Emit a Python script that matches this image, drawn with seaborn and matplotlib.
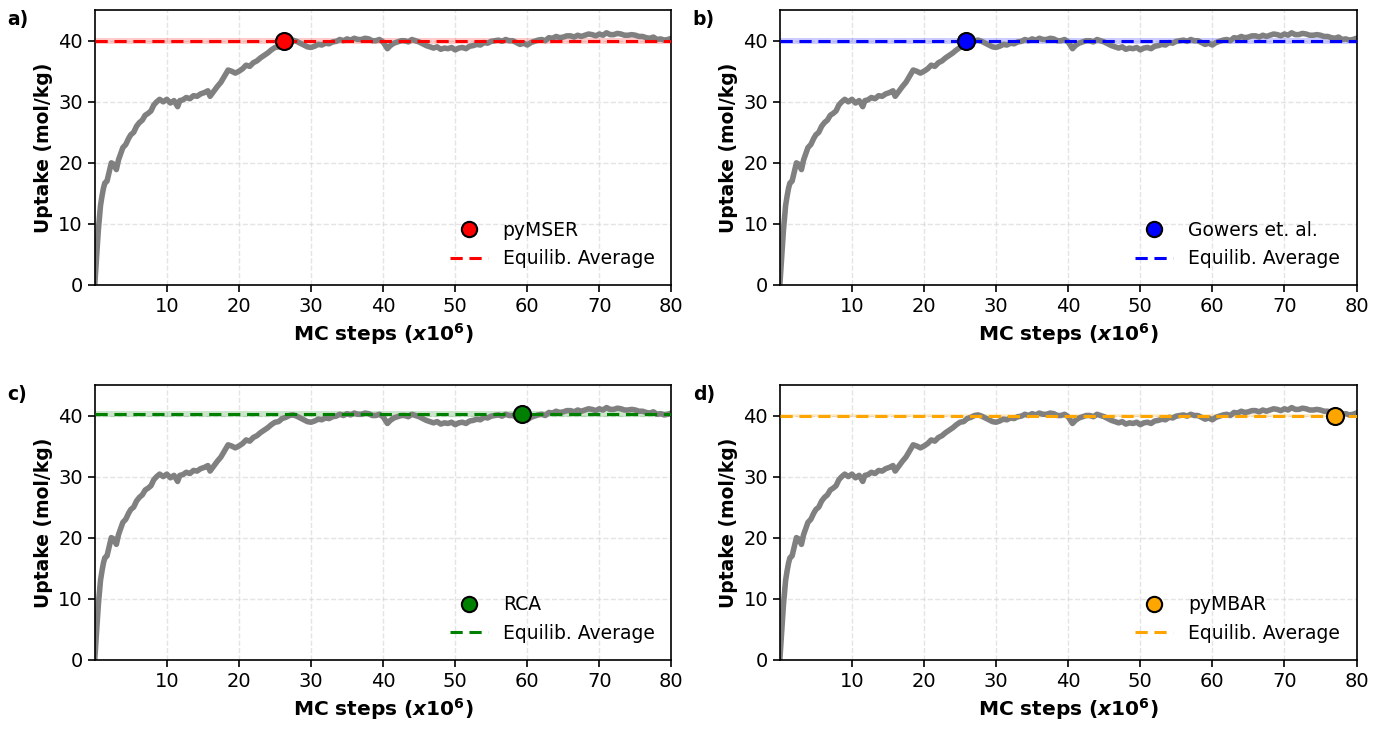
import numpy as np
import pandas as pd
import matplotlib
matplotlib.use("Agg")
import matplotlib.pyplot as plt
import seaborn as sns
from matplotlib.lines import Line2D

# ---- data ----
steps = [0, 0.2, 0.5, 0.8, 1.0, 1.2, 1.4, 1.7, 2.0, 2.3, 2.6, 3.0, 3.3, 3.6, 3.9,
         4.3, 4.7, 5.0, 5.4, 5.8, 6.2, 6.6, 7.0, 7.4, 7.8, 8.2, 8.6, 9.0, 9.5, 10.0,
         10.5, 11.0, 11.5, 11.8, 12.2, 12.7, 13.2, 13.7, 14.2, 14.7, 15.2, 15.7, 16.0,
         16.5, 17.0, 17.5, 18.0, 18.5, 19.0, 19.5, 20.0, 20.5, 21.0, 21.5, 22.0, 22.5,
         23.0, 23.5, 24.0, 24.5, 25.0, 25.5, 26.0, 26.5, 27.0, 27.5, 28.0, 28.5, 29.0,
         29.5, 30.0, 30.5, 31, 31.5, 32, 32.5, 33, 33.5, 34, 34.5, 35, 35.5, 36, 36.5,
         37, 37.5, 38, 38.5, 39, 39.5, 40, 40.6, 41, 41.5, 42, 42.5, 43, 43.5, 44, 44.5,
         45, 45.5, 46, 46.5, 47, 47.5, 48, 48.5, 49, 49.5, 50, 50.5, 51, 51.5, 52, 52.5,
         53, 53.5, 54, 54.5, 55, 55.5, 56, 56.5, 57, 57.5, 58, 58.5, 59, 59.5, 60, 60.5,
         61, 61.5, 62, 62.5, 63, 63.5, 64, 64.5, 65, 65.5, 66, 66.5, 67, 67.5, 68, 68.5,
         69, 69.5, 70, 70.5, 71, 71.5, 72, 72.5, 73, 73.5, 74, 74.5, 75, 75.5, 76, 76.5,
         77, 77.5, 78, 78.5, 79, 79.5, 80]
uptake = [0, 3.5, 9, 13, 14.5, 15.8, 16.7, 17.0, 18.5, 20.0, 19.8, 18.9, 20.5, 21.5, 22.5,
          23.0, 24.0, 24.6, 25.0, 26.0, 26.6, 27.0, 27.8, 28.1, 28.5, 29.5, 30.0, 30.4, 30.0, 30.4,
          29.8, 30.2, 29.2, 30.2, 30.3, 30.7, 30.5, 31.0, 30.9, 31.3, 31.5, 31.8, 30.9,
          31.7, 32.5, 33.2, 34.2, 35.2, 35.0, 34.7, 35.0, 35.4, 36.0, 35.8, 36.4, 36.7,
          37.2, 37.6, 38.0, 38.5, 38.9, 39.0, 39.5, 39.7, 40.0, 40.1, 39.9, 39.6, 39.3,
          39.0, 38.9, 39.1, 39.4, 39.3, 39.6, 39.5, 39.8, 39.9, 40.2, 40.0, 40.3, 40.1, 40.4, 40.2,
          40.2, 40.4, 40.3, 40.0, 40.0, 40.2, 39.8, 38.7, 39.2, 39.6, 39.8, 40.0, 40.0, 39.8, 40.2, 40.0,
          39.8, 39.5, 39.2, 39.0, 38.8, 39.0, 38.6, 38.8, 38.7, 38.9, 38.5, 38.8, 38.9, 38.7, 39.1, 39.2,
          39.4, 39.3, 39.7, 39.6, 39.9, 40.0, 40.1, 39.9, 40.2, 40.0, 40.0, 39.7, 39.4, 39.6, 39.3, 39.7,
          39.9, 40.1, 40.2, 40.0, 40.5, 40.4, 40.7, 40.5, 40.6, 40.8, 40.8, 40.6, 40.9, 40.7, 40.9, 41.1,
          41.0, 40.8, 41.1, 40.9, 41.3, 41.0, 41.0, 41.2, 41.1, 40.9, 40.9, 41.0, 40.9, 40.7, 40.7, 40.5,
          40.4, 40.6, 40.2, 40.3, 40.1, 40.2, 40.4]

panel_labels = ["a)", "b)", "c)", "d)"]
methods = ["pyMSER", "Gowers et. al.", "RCA", "pyMBAR"]
colors = ["red", "blue", "green", "orange"]
eq_time = [26.2, 25.8, 59.3, 77.0]
eq_avg = [39.9, 39.9, 40.2, 40.0]
eq_unc = [0.5, 0.5, 0.5, 0.3]
x_ticks = [10, 20, 30, 40, 50, 60, 70, 80]
y_ticks = [0, 10, 20, 30, 40]

df = pd.DataFrame({"steps": steps, "uptake": uptake})

sns.set_style("white", rc={"text.color": "black", "axes.labelcolor": "black",
                           "xtick.color": "black", "ytick.color": "black",
                           "axes.edgecolor": "black"})
plt.rcParams["font.family"] = ["DejaVu Sans"]

fig, axes = plt.subplots(2, 2, figsize=(13.73, 7.29), dpi=100)
fig.subplots_adjust(left=0.069, right=0.988, top=0.986, bottom=0.095,
                    wspace=0.188, hspace=0.364)

for ax, lab, meth, col, t, avg, unc in zip(axes.flat, panel_labels, methods, colors,
                                           eq_time, eq_avg, eq_unc):
    ax.axhspan(avg - unc, avg + unc, color=col, alpha=0.2, lw=0, zorder=1)
    sns.lineplot(data=df, x="steps", y="uptake", ax=ax, color="gray", lw=4, zorder=2)
    ax.axhline(avg, color=col, ls="--", lw=2.2, dashes=(4, 2.2), zorder=3)
    sns.scatterplot(x=[t], y=[avg], ax=ax, color=col, s=150, edgecolor="black",
                    linewidth=1.5, zorder=4)
    ax.set_xlim(0, 80)
    ax.set_ylim(0, 45)
    ax.set_xticks(x_ticks)
    ax.set_yticks(y_ticks)
    ax.tick_params(axis="both", labelsize=14, length=5, width=1.2, direction="out",
                   bottom=True, left=True, colors="black")
    ax.grid(True, ls="--", color="lightgray", alpha=0.6, lw=1)
    for sp in ax.spines.values():
        sp.set_visible(True)
        sp.set_color("black")
        sp.set_linewidth(1.2)
    ax.set_xlabel(r"MC steps ($\mathbfit{x}\mathbf{10^6}$)", fontsize=14.5, fontweight="bold")
    ax.set_ylabel("Uptake (mol/kg)", fontsize=13.5, fontweight="bold")
    ax.text(-0.151, 0.965, lab, transform=ax.transAxes, ha="left", va="center",
            fontsize=13.5, fontweight="bold")
    handles = [Line2D([], [], marker="o", ls="none", markersize=11, markerfacecolor=col,
                      markeredgecolor="black", markeredgewidth=1.5),
               Line2D([], [], color=col, ls="--", lw=2.2, dashes=(4, 2.2))]
    ax.legend(handles, [meth, "Equilib. Average"], loc="lower right", frameon=False,
              fontsize=13.5)

fig.savefig("out.png", dpi=100)
